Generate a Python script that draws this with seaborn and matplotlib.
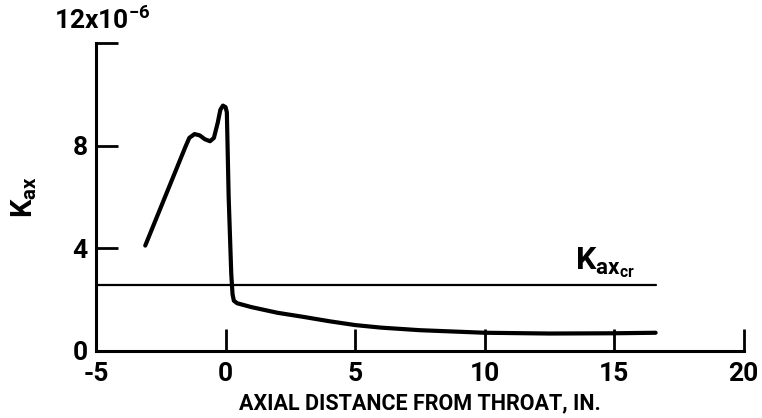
import numpy as np
import pandas as pd
import matplotlib
matplotlib.use("Agg")
import matplotlib.pyplot as plt
import seaborn as sns

# values (K_ax in units of 1e-6)
axial_dist = [-3.1, -1.55, -1.4, -1.2, -1.0, -0.8, -0.6, -0.45, -0.3, -0.2, -0.1,
              0.0, 0.05, 0.12, 0.22, 0.27, 0.32, 0.45, 1.0, 2.0, 3.0, 4.0, 5.0,
              6.0, 7.5, 10.0, 12.5, 15.0, 16.6]
k_ax = [4.1, 7.95, 8.3, 8.45, 8.4, 8.25, 8.17, 8.3, 8.9, 9.4, 9.56,
        9.5, 9.3, 6.0, 3.0, 2.2, 1.95, 1.85, 1.7, 1.48, 1.32, 1.15, 1.0,
        0.9, 0.8, 0.7, 0.67, 0.68, 0.70]
k_ax_cr = 2.55
cr_range = [-5, 16.6]

x_ticks = [-5, 0, 5, 10, 15, 20]
y_ticks = [0, 4, 8, 12]
y_ticklabels = ["0", "4", "8", ""]

df = pd.DataFrame({"x": axial_dist, "k": k_ax})
df_cr = pd.DataFrame({"x": cr_range, "k": [k_ax_cr, k_ax_cr]})

sns.set_style("ticks")
plt.rcParams["font.family"] = ["Roboto", "DejaVu Sans"]
plt.rcParams["font.weight"] = "bold"
plt.rcParams["axes.labelweight"] = "bold"
plt.rcParams["mathtext.fontset"] = "custom"
plt.rcParams["mathtext.rm"] = "Roboto:bold"
plt.rcParams["mathtext.default"] = "rm"
plt.rcParams["axes.unicode_minus"] = False
plt.rcParams["text.color"] = "black"
plt.rcParams["axes.labelcolor"] = "black"

fig = plt.figure(figsize=(7.62, 4.18), dpi=100)
ax = fig.add_axes([0.126, 0.161, 0.85, 0.736])

sns.lineplot(data=df, x="x", y="k", ax=ax, color="black", linewidth=3, sort=False)
sns.lineplot(data=df_cr, x="x", y="k", ax=ax, color="black", linewidth=1.6)

ax.set_xlim(-5, 20)
ax.set_ylim(0, 12)
ax.set_xticks(x_ticks)
ax.set_yticks(y_ticks)
ax.set_yticklabels(y_ticklabels)
ax.tick_params(direction="in", length=16, width=2, labelsize=19, colors="black")
ax.tick_params(axis="x", pad=8)
ax.tick_params(axis="y", pad=6)
sns.despine(ax=ax)
for s in ["left", "bottom"]:
    ax.spines[s].set_linewidth(2.2)
    ax.spines[s].set_color("black")

ax.set_xlabel("AXIAL DISTANCE FROM THROAT, IN.", fontsize=15.5, labelpad=5)
ax.set_ylabel(r"$K_{ax}$", fontsize=21, labelpad=24)
ax.text(0.01, 1.03, r"12x10$^{-6}$", transform=ax.transAxes, ha="center", va="bottom", fontsize=19)
ax.text(13.5, 2.75, r"$K_{ax_{cr}}$", ha="left", va="bottom", fontsize=23)

fig.savefig("out.png", dpi=100)
